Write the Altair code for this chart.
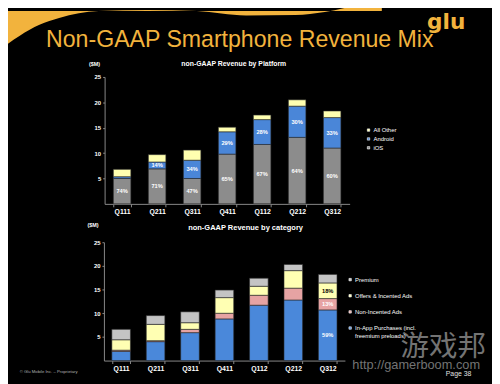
import altair as alt
import pandas as pd

FONT = "Liberation Sans"
ORANGE = "#F2B33D"
W, H = 492, 376

quarters = ["Q111", "Q211", "Q311", "Q411", "Q112", "Q212", "Q312"]

# ---- non-GAAP Revenue by Platform ($M) ----
platform_series = ["iOS", "Android", "All Other"]
ios = [5.0, 6.9, 5.0, 9.8, 11.7, 13.1, 11.0]
android = [0.35, 1.35, 3.6, 4.4, 4.9, 6.15, 6.0]
all_other = [1.45, 1.45, 2.0, 0.9, 0.9, 1.25, 1.3]
ios_pct = ["74%", "71%", "47%", "65%", "67%", "64%", "60%"]
android_pct = ["", "14%", "34%", "29%", "28%", "30%", "33%"]
all_other_pct = ["", "", "", "", "", "", ""]
platform_legend = ["All Other", "Android", "iOS"]
platform_colors = ["#FFFFB0", "#4A86D8", "#8C8C8C"]

# ---- non-GAAP Revenue by category ($M) ----
category_series = ["In-App Purchases (incl. freemium preloads)", "Non-Incented Ads",
                   "Offers & Incented Ads", "Premium"]
in_app = [1.95, 4.0, 5.9, 8.8, 11.7, 12.8, 10.7]
non_incented = [0.25, 0.2, 0.7, 1.2, 2.1, 2.5, 2.4]
offers = [2.2, 3.45, 1.4, 3.3, 1.9, 3.7, 3.3]
premium = [2.2, 1.85, 2.3, 1.6, 1.7, 1.3, 1.8]
in_app_pct = ["", "", "", "", "", "", "59%"]
non_incented_pct = ["", "", "", "", "", "", "13%"]
offers_pct = ["", "", "", "", "", "", "18%"]
premium_pct = ["", "", "", "", "", "", ""]
category_legend = ["Premium", "Offers & Incented Ads", "Non-Incented Ads",
                   "In-App Purchases (incl. freemium preloads)"]
category_colors = ["#C4C4C4", "#FFFFB3", "#E6A3A3", "#4A88DA"]

y_ticks = [5, 10, 15, 20, 25]


def stacked(names, values, labels):
    rows = []
    for i, q in enumerate(quarters):
        base = 0.0
        for name, vals, labs in zip(names, values, labels):
            v = vals[i]
            rows.append(dict(quarter=q, series=name, y0=base, y1=base + v,
                             mid=base + v / 2, label=labs[i]))
            base += v
    return pd.DataFrame(rows)


top_df = stacked(platform_series, [ios, android, all_other],
                 [ios_pct, android_pct, all_other_pct])
bot_df = stacked(category_series, [in_app, non_incented, offers, premium],
                 [in_app_pct, non_incented_pct, offers_pct, premium_pct])

axis_common = dict(title=None, grid=False, labelColor="white", labelFont=FONT,
                   labelFontWeight="bold", domainColor="#8a8a8a", tickColor="#8a8a8a",
                   domainWidth=1, tickWidth=1)


def bar_panel(df, x_range, pad, y_range, legend_domain, legend_colors, legend_xy,
              row_pad, label_expr=None):
    x_scale = alt.Scale(domain=quarters, range=x_range, paddingInner=pad,
                        paddingOuter=pad / 2)
    y_scale = alt.Scale(domain=[0, 25], range=y_range, nice=False)
    x_axis = alt.Axis(orient="bottom", offset=y_range[0] - H, labelAngle=0,
                      labelFontSize=7, tickBand="extent", tickSize=3,
                      labelPadding=1, **axis_common)
    y_axis = alt.Axis(orient="left", offset=-x_range[0], values=y_ticks,
                      labelFontSize=6, tickSize=2, labelPadding=2, **axis_common)
    leg = dict(orient="none", legendX=legend_xy[0], legendY=legend_xy[1], title=None,
               symbolType="square", symbolSize=6, symbolStrokeColor="white",
               symbolStrokeWidth=0.6, labelFontSize=6, labelFont=FONT,
               labelColor="white", rowPadding=row_pad, labelOffset=2, padding=0)
    if label_expr:
        leg["labelExpr"] = label_expr
    bars = alt.Chart(df).mark_bar(stroke="#2a2a2a", strokeWidth=0.6).encode(
        x=alt.X("quarter:N", sort=quarters, scale=x_scale, axis=x_axis),
        y=alt.Y("y0:Q", scale=y_scale, axis=y_axis),
        y2="y1:Q",
        color=alt.Color("series:N",
                        scale=alt.Scale(domain=legend_domain, range=legend_colors),
                        legend=alt.Legend(**leg)),
    )
    labels = alt.Chart(df).mark_text(font=FONT, fontWeight="bold", fontSize=5.8).encode(
        x=alt.X("quarter:N", sort=quarters, scale=x_scale, axis=x_axis),
        y=alt.Y("mid:Q", scale=y_scale, axis=y_axis),
        text="label:N",
        color=alt.condition(alt.datum.series == "Offers & Incented Ads",
                            alt.value("black"), alt.value("white")),
    )
    return alt.layer(bars, labels)


top_chart = bar_panel(top_df, [98.2, 347.3], 0.5, [196, 67],
                      platform_legend, platform_colors, (363.5, 118), 3)
bot_chart = bar_panel(bot_df, [97.5, 342.5], 0.46, [355.3, 235],
                      category_legend, category_colors, (344.8, 270), 10.4,
                      label_expr="datum.label == 'In-App Purchases (incl. freemium preloads)'"
                                 " ? ['In-App Purchases (incl.', 'freemium preloads)'] : datum.label")

# decorative header swoosh (page decoration, pixel path)
swoosh = pd.DataFrame({
    "px": [-8, 12, 32, 52, 92, 142, 192, 242, 292, 322, 342, 362, 380],
    "py": [39, 25, 14, 7, 0, -1, 0, 4.5, 4, 1, -3, -8, -10],
})
swoosh_layer = alt.Chart(swoosh).mark_area(color=ORANGE, interpolate="monotone").encode(
    x=alt.X("px:Q", scale=None, axis=None),
    y=alt.Y("py:Q", scale=None, axis=None),
    y2=alt.value(-12),
)

one = pd.DataFrame({"k": [0]})


def txt(text, x, y, size, color="white", weight="normal", align="center",
        baseline="middle", font=FONT, opacity=1.0):
    return alt.Chart(one).mark_text(
        text=text, font=font, fontSize=size, color=color, fontWeight=weight,
        align=align, baseline=baseline, opacity=opacity,
    ).encode(x=alt.value(x), y=alt.value(y))


texts = [
    txt("Non-GAAP Smartphone Revenue Mix", 38.7, 37, 23.5, color=ORANGE,
        align="left", baseline="alphabetic"),
    txt("glu", 426, 18, 22, color=ORANGE, weight="bold", align="left",
        baseline="alphabetic", font="DejaVu Sans"),
    txt("non-GAAP Revenue by Platform", 229.5, 54, 7, weight="bold"),
    txt("($M)", 88, 54, 5.5, weight="bold"),
    txt("non-GAAP Revenue by category", 241.5, 221, 7.6, weight="bold"),
    txt("($M)", 86.5, 218, 5.5, weight="bold"),
    txt("游戏邦", 399, 342, 29, color="#9a9a9a", align="left",
        font="Noto Sans CJK SC", opacity=0.75),
    txt("http://gamerboom.com", 350, 359.5, 13, color="#9a9a9a", align="left",
        opacity=0.75),
    txt("© Glu Mobile Inc. – Proprietary", 12, 367, 4.3, color="#b0b0b0", align="left"),
    txt("Page 38", 445, 368.7, 7, color="#e0e0e0", align="left"),
]

chart = alt.layer(swoosh_layer, *texts, top_chart, bot_chart).resolve_scale(
    x="independent", y="independent", color="independent"
).properties(
    width=W, height=H,
    autosize=alt.AutoSizeParams(type="none"),
    padding=0,
    background="black",
).configure_view(strokeWidth=0)

chart.save("out.html", embed_options={"renderer": "svg", "actions": False})
